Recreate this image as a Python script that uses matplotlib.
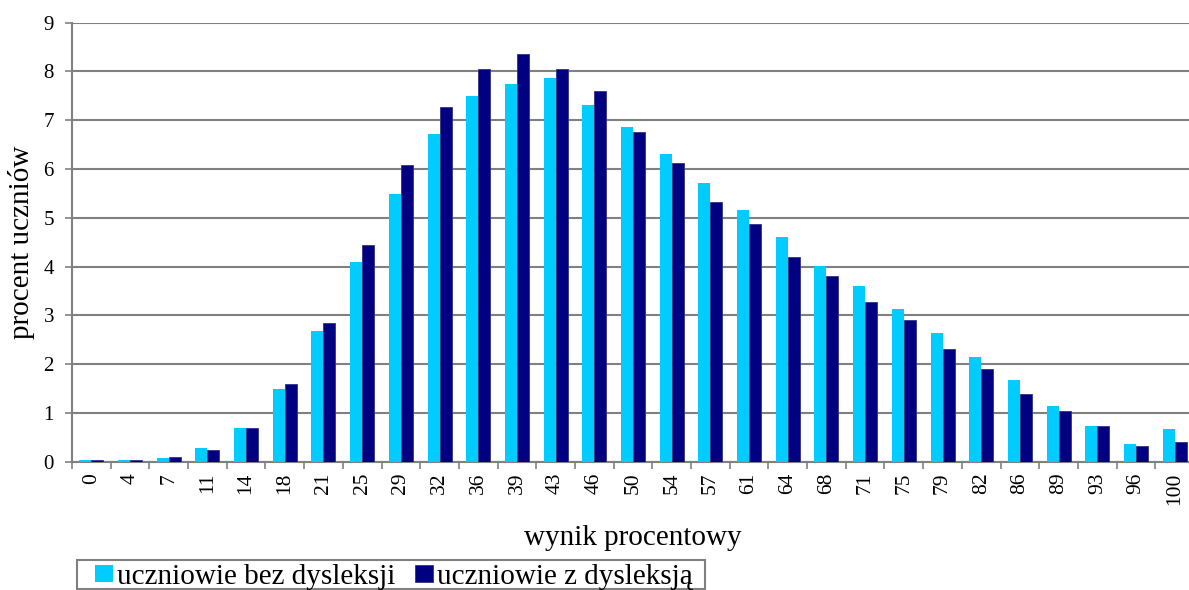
import numpy as np
import matplotlib
matplotlib.use('Agg')
import matplotlib.pyplot as plt
from matplotlib.patches import Rectangle
from matplotlib.ticker import FixedLocator, NullFormatter

plt.rcParams['font.family'] = ['Liberation Serif', 'DejaVu Serif']

# dane
wyniki = ['0', '4', '7', '11', '14', '18', '21', '25', '29', '32', '36', '39', '43', '46',
          '50', '54', '57', '61', '64', '68', '71', '75', '79', '82', '86', '89', '93', '96', '100']
bez_dysleksji = [0.03, 0.03, 0.08, 0.28, 0.70, 1.50, 2.68, 4.09, 5.49, 6.72, 7.50, 7.74, 7.86, 7.31,
                 6.86, 6.30, 5.72, 5.16, 4.61, 4.01, 3.61, 3.14, 2.64, 2.14, 1.67, 1.14, 0.73, 0.36, 0.67]
z_dysleksja = [0.04, 0.04, 0.10, 0.25, 0.70, 1.59, 2.84, 4.45, 6.09, 7.27, 8.05, 8.35, 8.06, 7.61,
               6.75, 6.12, 5.32, 4.87, 4.20, 3.80, 3.27, 2.90, 2.32, 1.91, 1.39, 1.04, 0.73, 0.33, 0.40]

W, H = 1189, 590
fig = plt.figure(figsize=(W/100, H/100), dpi=100)
ax = fig.add_axes([72/W, (H-461.7)/H, (1194-72)/W, (461.7-22.7)/H])

x = np.arange(len(wyniki))
bw = 0.31
ax.bar(x - bw/2, bez_dysleksji, bw, color='#00CCFF', label='uczniowie bez dysleksji', zorder=3)
ax.bar(x + bw/2, z_dysleksja, bw, color='#000080', edgecolor='#33338a', linewidth=0.6,
       label='uczniowie z dysleksją', zorder=3)

ax.set_xlim(-0.5, len(wyniki) - 0.5)
ax.set_ylim(0, 9)
ax.set_yticks(range(10))
ax.yaxis.grid(True, color='#808080', linewidth=1.5, zorder=0)

# ticks between categories, labels in the middle
ax.xaxis.set_major_locator(FixedLocator(np.arange(-0.5, len(wyniki), 1.0)))
ax.xaxis.set_major_formatter(NullFormatter())
ax.xaxis.set_minor_locator(FixedLocator(x))
ax.set_xticklabels(wyniki, minor=True, rotation=90, fontsize=15.5)
ax.tick_params(axis='x', which='minor', length=0, pad=8)
ax.tick_params(axis='x', which='major', length=5, width=1.2, color='#808080', direction='out')
ax.tick_params(axis='y', length=5, width=1.2, color='#808080', labelsize=15, pad=8)

for s in ['top', 'right']:
    ax.spines[s].set_visible(False)
for s in ['left', 'bottom']:
    ax.spines[s].set_color('#808080')
    ax.spines[s].set_linewidth(1.5)

ax.set_ylabel('procent uczniów', fontsize=21, labelpad=6)
ax.set_xlabel('wynik procentowy', fontsize=21, labelpad=14)

# legenda + ramka (ramka osobno, bo padding poziomy != pionowy)
fig.legend(loc='center left', bbox_to_anchor=(95/W, 1 - 577/H), ncol=2, fontsize=21,
           frameon=False, handlelength=0.6, handleheight=0.55, handletextpad=0.15,
           columnspacing=0.68, borderpad=0, borderaxespad=0)
fig.patches.append(Rectangle((76.7/W, 1 - 588.7/H), (705 - 76.7)/W, 28.7/H,
                             transform=fig.transFigure, fill=False,
                             edgecolor='#808080', linewidth=1.5))

fig.savefig('out.png', dpi=100)
